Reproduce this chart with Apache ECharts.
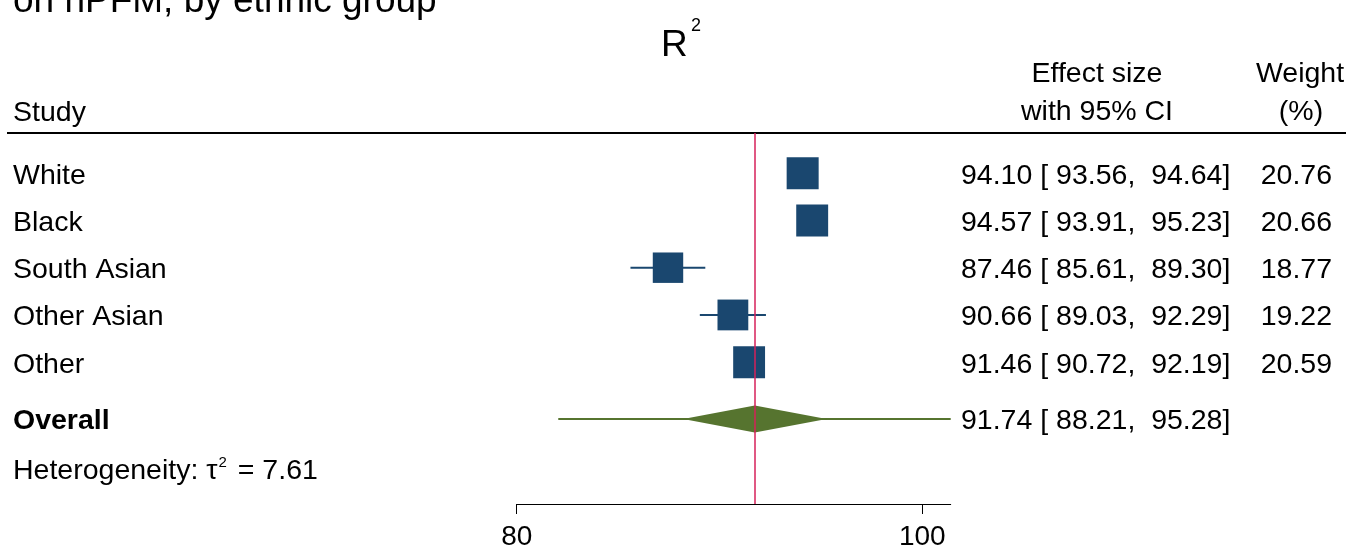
<!DOCTYPE html>
<html>
<head>
<meta charset="utf-8">
<script src="https://cdn.jsdelivr.net/npm/echarts@6/dist/echarts.min.js"></script>
<style>html,body{margin:0;padding:0;background:#fff;}#c{width:1346px;height:546px;}</style>
</head>
<body>
<div id="c"></div>
<script>
// ---- data ----
const studies = ['White', 'Black', 'South Asian', 'Other Asian', 'Other'];
const effect = [94.10, 94.57, 87.46, 90.66, 91.46];
const ciLow = [93.56, 93.91, 85.61, 89.03, 90.72];
const ciHigh = [94.64, 95.23, 89.30, 92.29, 92.19];
const weights = [20.76, 20.66, 18.77, 19.22, 20.59];
const overallLabel = ['Overall'];
const overallEffect = [91.74];
const overallLow = [88.21];
const overallHigh = [95.28];
const predLow = [82.05];
const predHigh = [101.4];
const tau2 = [7.61];
const xTicks = [80, 100];
const rows = [1, 2, 3, 4, 5];
const overallRow = 6.2;
const hetRow = 7.25;

// ---- layout / style ----
const FONT = 'Liberation Sans, Arial, Helvetica, sans-serif';
const FS = 28.5;
const NAVY = '#1a476f';
const GREEN = '#56742f';
const RED = '#d6215a';
const TY = 2.5; // text baseline nudge
const sqK = 32 / Math.sqrt(20.76);
const fmt = v => v.toFixed(2);
const fmtCI = (e, l, h) => fmt(e) + ' [ ' + fmt(l) + ',  ' + fmt(h) + ']';

const chart = echarts.init(document.getElementById('c'), null, {renderer: 'canvas'});

const studyData = studies.map((s, i) => [effect[i], rows[i], ciLow[i], ciHigh[i], weights[i]]);

const textRows = studies.map((s, i) => ({
  row: rows[i], left: s, mid: fmtCI(effect[i], ciLow[i], ciHigh[i]), right: fmt(weights[i]), bold: false
}));
textRows.push({row: overallRow, left: overallLabel[0], mid: fmtCI(overallEffect[0], overallLow[0], overallHigh[0]), right: '', bold: true});

const option = {
  animation: false,
  backgroundColor: '#fff',
  grid: {left: 516.7, width: 434, top: 133, bottom: 42, containLabel: false, outerBoundsMode: 'none'},
  xAxis: {
    type: 'value', min: 80, max: 101.4,
    splitLine: {show: false},
    axisLine: {show: true, lineStyle: {color: '#000', width: 1}},
    axisTick: {show: true, length: 10, lineStyle: {color: '#000', width: 1}, customValues: xTicks},
    axisLabel: {show: true, customValues: xTicks, color: '#000', fontFamily: FONT, fontSize: 28, margin: 19},
  },
  yAxis: {type: 'value', inverse: true, min: 0.15, max: 8.0, show: false},
  graphic: [
    {type: 'text', left: 13, top: -17, style: {text: 'on hPFM, by ethnic group', font: '37px ' + FONT, fill: '#000'}},
    {type: 'text', x: 661, y: 64, style: {text: 'R', font: '37px ' + FONT, fill: '#000', textVerticalAlign: 'bottom'}},
    {type: 'text', x: 691, y: 17, style: {text: '2', font: '18px ' + FONT, fill: '#000', textVerticalAlign: 'top'}},
    {type: 'text', x: 13, y: 111 + TY, style: {text: 'Study', font: FS + 'px ' + FONT, fill: '#000', textVerticalAlign: 'middle'}},
    {type: 'text', x: 1097, y: 72 + TY, style: {text: 'Effect size', font: FS + 'px ' + FONT, fill: '#000', textAlign: 'center', textVerticalAlign: 'middle'}},
    {type: 'text', x: 1097, y: 110 + TY, style: {text: 'with 95% CI', font: FS + 'px ' + FONT, fill: '#000', textAlign: 'center', textVerticalAlign: 'middle'}},
    {type: 'text', x: 1300, y: 72 + TY, style: {text: 'Weight', font: FS + 'px ' + FONT, fill: '#000', textAlign: 'center', textVerticalAlign: 'middle'}},
    {type: 'text', x: 1301, y: 110 + TY, style: {text: '(%)', font: FS + 'px ' + FONT, fill: '#000', textAlign: 'center', textVerticalAlign: 'middle'}},
    {type: 'line', shape: {x1: 7, y1: 133, x2: 1346, y2: 133}, style: {stroke: '#000', lineWidth: 2}}
  ],
  series: [
    {
      type: 'custom', name: 'pred', z: 2,
      data: [[predLow[0], predHigh[0], overallRow]],
      renderItem: (params, api) => {
        const a = api.coord([api.value(0), api.value(2)]);
        const b = api.coord([api.value(1), api.value(2)]);
        return {type: 'line', shape: {x1: a[0], y1: a[1], x2: b[0], y2: b[1]}, style: {stroke: GREEN, lineWidth: 2}};
      },
      markLine: {
        silent: true, symbol: 'none', label: {show: false},
        lineStyle: {color: RED, width: 1.5, type: 'solid'},
        data: [{xAxis: overallEffect[0]}]
      }
    },
    {
      type: 'custom', name: 'overall', z: 3,
      data: [[overallEffect[0], overallLow[0], overallHigh[0], overallRow]],
      renderItem: (params, api) => {
        const c = api.coord([api.value(0), api.value(3)]);
        const l = api.coord([api.value(1), api.value(3)]);
        const r = api.coord([api.value(2), api.value(3)]);
        const h = 13.5;
        return {type: 'polygon', shape: {points: [[l[0], c[1]], [c[0], c[1] - h], [r[0], c[1]], [c[0], c[1] + h]]}, style: {fill: GREEN}};
      }
    },
    {
      type: 'custom', name: 'studies', z: 4,
      data: studyData,
      renderItem: (params, api) => {
        const c = api.coord([api.value(0), api.value(1)]);
        const l = api.coord([api.value(2), api.value(1)]);
        const r = api.coord([api.value(3), api.value(1)]);
        const s = sqK * Math.sqrt(api.value(4));
        return {type: 'group', children: [
          {type: 'line', shape: {x1: l[0], y1: l[1], x2: r[0], y2: r[1]}, style: {stroke: NAVY, lineWidth: 2}},
          {type: 'rect', shape: {x: c[0] - s / 2, y: c[1] - s / 2, width: s, height: s}, style: {fill: NAVY}}
        ]};
      }
    },
    {
      type: 'custom', name: 'texts', z: 5, clip: false,
      data: textRows.map(t => [80, t.row]),
      renderItem: (params, api) => {
        const t = textRows[params.dataIndex];
        const y = api.coord([80, t.row])[1] + TY;
        const f = (t.bold ? 'bold ' : '') + FS + 'px ' + FONT;
        const kids = [
          {type: 'text', x: 13, y: y, style: {text: t.left, font: f, fill: '#000', textAlign: 'left', textVerticalAlign: 'middle'}},
          {type: 'text', x: 961, y: y, style: {text: t.mid, font: FS + 'px ' + FONT, fill: '#000', textAlign: 'left', textVerticalAlign: 'middle'}}
        ];
        if (t.right) kids.push({type: 'text', x: 1332, y: y, style: {text: t.right, font: FS + 'px ' + FONT, fill: '#000', textAlign: 'right', textVerticalAlign: 'middle'}});
        return {type: 'group', children: kids};
      }
    },
    {
      type: 'custom', name: 'het', z: 5, clip: false,
      data: [[80, hetRow, tau2[0]]],
      renderItem: (params, api) => {
        const y = api.coord([80, api.value(1)])[1] + TY;
        return {type: 'text', x: 13, y: y, style: {
          text: 'Heterogeneity: τ{sup|2} = ' + fmt(api.value(2)),
          font: FS + 'px ' + FONT, fill: '#000', textAlign: 'left', textVerticalAlign: 'middle',
          rich: {sup: {fontSize: 15, fontFamily: FONT, verticalAlign: 'top', padding: [0, 3, 16, 1], fill: '#000'}}
        }};
      }
    }
  ]
};
chart.setOption(option);
</script>
</body>
</html>
